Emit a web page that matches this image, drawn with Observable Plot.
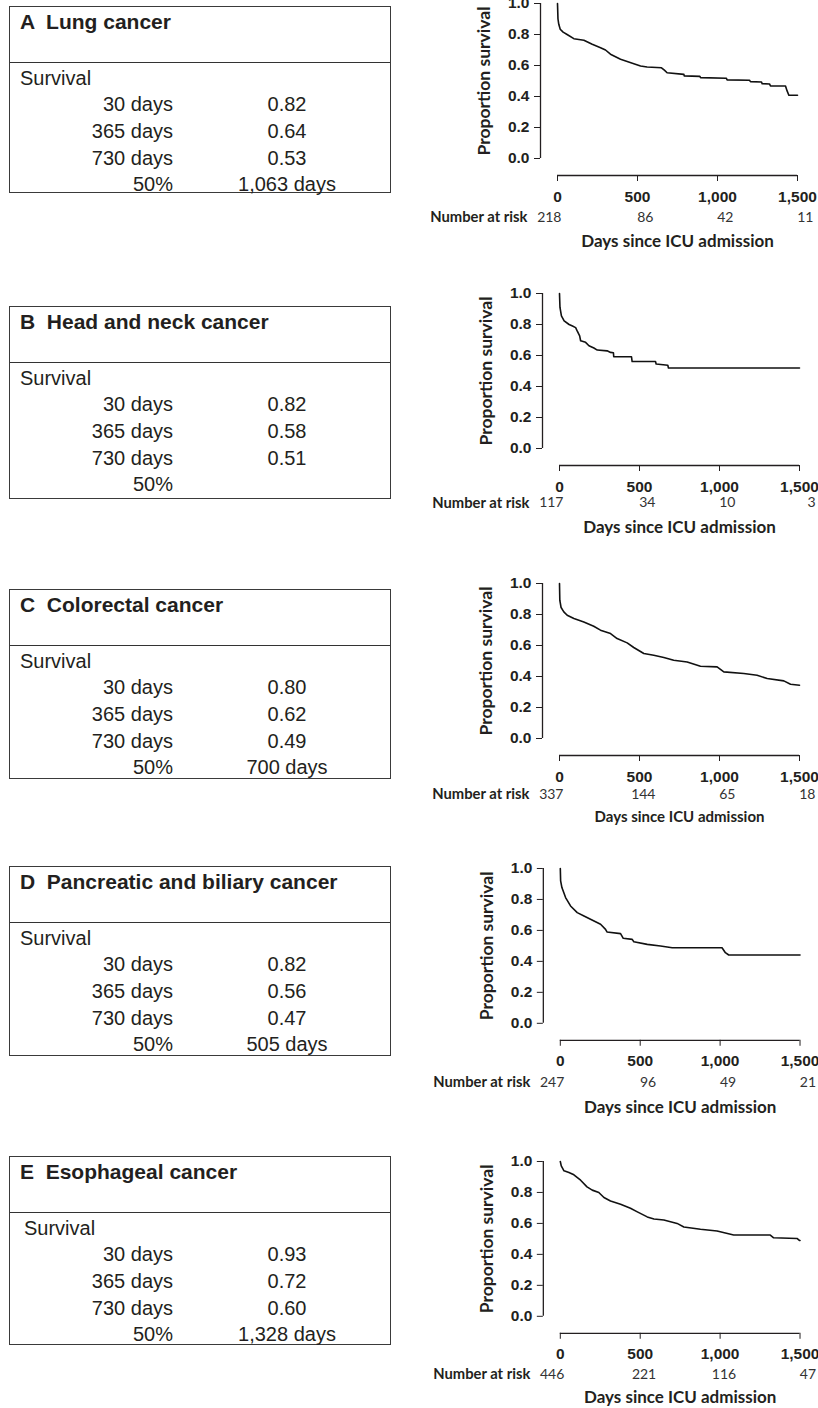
<!DOCTYPE html>
<html>
<head>
<meta charset="utf-8">
<script src="https://cdn.jsdelivr.net/npm/d3@7"></script>
<script src="https://cdn.jsdelivr.net/npm/@observablehq/plot@0.6"></script>
<style>
  html, body { margin: 0; padding: 0; background: #fff; }
  body { width: 818px; height: 1408px; position: relative; overflow: hidden; }
  .box { position: absolute; left: 9px; width: 382px; border: 1.3px solid #3a3a3a; box-sizing: border-box;
         font-family: "Liberation Sans", Arial, sans-serif; color: #231f20; }
  .sep { position: absolute; left: 0; right: 0; height: 0; border-top: 1.8px solid #333; }
  .t { position: absolute; line-height: 24px; height: 24px; white-space: pre; }
  .hdr { font-weight: bold; font-size: 21px; left: 10px; }
  .lab { font-size: 20px; left: 0; width: 163px; text-align: right; }
  .val { font-size: 20px; left: 177px; width: 200px; text-align: center; }
  .sv  { font-size: 20px; }
  .chart { position: absolute; }
  .chart g[aria-label$="tick label"] { font-family: "Liberation Sans", Arial, sans-serif; font-size: 15.5px; font-weight: bold; }
</style>
</head>
<body>
<script>
// ---------- data ----------
const panelLetters = ["A", "B", "C", "D", "E"];
const cancerNames = ["Lung cancer", "Head and neck cancer", "Colorectal cancer",
                     "Pancreatic and biliary cancer", "Esophageal cancer"];
const survivalLabels = ["30 days", "365 days", "730 days", "50%"];
const survivalA = ["0.82", "0.64", "0.53", "1,063 days"];
const survivalB = ["0.82", "0.58", "0.51", ""];
const survivalC = ["0.80", "0.62", "0.49", "700 days"];
const survivalD = ["0.82", "0.56", "0.47", "505 days"];
const survivalE = ["0.93", "0.72", "0.60", "1,328 days"];

const xTicks = [0, 500, 1000, 1500];
const yTicks = [0, 0.2, 0.4, 0.6, 0.8, 1.0];
const xDomain = [0, 1500];
const yDomain = [0, 1];

const riskA = [218, 86, 42, 11];
const riskB = [117, 34, 10, 3];
const riskC = [337, 144, 65, 18];
const riskD = [247, 96, 49, 21];
const riskE = [446, 221, 116, 47];

// [days since ICU admission, proportion surviving]
const curveA = [[0,1],[3,0.9],[8,0.866],[17,0.834],[35,0.815],[60,0.80],[102,0.773],[165,0.763],[217,0.737],
  [269,0.715],[300,0.70],[331,0.673],[394,0.64],[477,0.612],[519,0.597],[560,0.59],[650,0.585],[668,0.57],
  [685,0.553],[790,0.543],[792,0.533],[890,0.53],[894,0.522],[1055,0.518],[1060,0.507],[1200,0.505],
  [1206,0.496],[1275,0.494],[1279,0.483],[1325,0.481],[1331,0.468],[1425,0.468],[1435,0.436],[1446,0.408],[1500,0.408]];
const curveB = [[0,1],[3,0.91],[12,0.856],[29,0.824],[60,0.80],[81,0.79],[101,0.78],[112,0.755],[126,0.727],
  [132,0.695],[163,0.685],[184,0.663],[215,0.648],[236,0.635],[298,0.63],[319,0.62],[337,0.618],[339,0.592],
  [450,0.592],[454,0.561],[600,0.561],[604,0.545],[677,0.537],[681,0.519],[1500,0.519]];
const curveC = [[0,1],[2,0.892],[10,0.845],[27,0.817],[48,0.795],[90,0.774],[152,0.752],[214,0.724],[256,0.699],
  [319,0.677],[360,0.645],[423,0.617],[464,0.587],[527,0.548],[589,0.537],[652,0.523],[714,0.505],[798,0.494],
  [881,0.466],[985,0.462],[1027,0.43],[1152,0.419],[1235,0.408],[1298,0.387],[1402,0.372],[1444,0.35],[1500,0.344]];
const curveD = [[0,1],[2,0.92],[10,0.877],[33,0.812],[64,0.758],[106,0.715],[148,0.693],[189,0.672],[252,0.64],
  [283,0.607],[292,0.59],[377,0.579],[394,0.549],[450,0.542],[460,0.527],[544,0.51],[627,0.499],[700,0.488],
  [1012,0.488],[1033,0.456],[1054,0.441],[1500,0.441]];
const curveE = [[0,1],[6,0.972],[23,0.94],[54,0.929],[85,0.914],[127,0.879],[167,0.836],[200,0.815],[241,0.8],
  [273,0.767],[314,0.745],[377,0.724],[439,0.698],[479,0.676],[544,0.642],[586,0.629],[648,0.622],[731,0.60],
  [773,0.577],[877,0.562],[981,0.551],[1085,0.525],[1314,0.525],[1335,0.507],[1481,0.503],[1496,0.49],[1500,0.49]];

const survivalTables = [survivalA, survivalB, survivalC, survivalD, survivalE];
const riskTables = [riskA, riskB, riskC, riskD, riskE];
const curves = [curveA, curveB, curveC, curveD, curveE];

// ---------- layout ----------
const tableTop = [6, 306, 589, 866, 1156];
const tableHeight = [187, 193, 190, 190, 189];
const survivalIndent = [10, 10, 10, 10, 14];
const chartTop = [2.5, 292.7, 583.3, 867.7, 1160.7];   // y of 1.0
const chartLeft = [398, 400, 400, 400.5, 400.5];
const riskDy = [42, 37.5, 39, 42.5, 41];
const titleDy = [66, 62, 62, 67, 64];
const titleSize = [17, 17, 15, 17, 17];

const MT = 12, FRAME = 155, INSET = 17, MB = 90, ML = 142, MR = 19, W = 418;

const chartFont = "Lato, 'Open Sans', sans-serif";

function table(i) {
  const box = document.createElement("div");
  box.className = "box";
  box.style.top = tableTop[i] + "px";
  box.style.height = tableHeight[i] + "px";
  const sep = document.createElement("div");
  sep.className = "sep"; sep.style.top = "55px";
  box.appendChild(sep);
  const add = (cls, text, center, extra) => {
    const d = document.createElement("div");
    d.className = "t " + cls;
    d.textContent = text;
    d.style.top = (center - 12) + "px";
    if (extra) Object.assign(d.style, extra);
    box.appendChild(d);
  };
  add("hdr", panelLetters[i] + "  " + cancerNames[i], 15);
  add("sv", "Survival", 55 + 16, {left: survivalIndent[i] + "px"});
  survivalLabels.forEach((lab, j) => {
    const c = 55 + 42 + j * 26.8;
    add("lab", lab, c);
    add("val", survivalTables[i][j], c);
  });
  document.body.appendChild(box);
}

function chart(i) {
  const risk = xTicks.map((d, j) => ({day: d, n: riskTables[i][j]}));
  const textStyle = {fontFamily: chartFont};
  const svg = Plot.plot({
    width: W,
    height: MT + FRAME + INSET + MB,
    marginTop: MT, marginBottom: MB, marginLeft: ML, marginRight: MR,
    style: {fontFamily: "'Liberation Sans', Arial, sans-serif", fontSize: "15.5px", fontWeight: "bold",
            color: "#231f20", background: "transparent", overflow: "visible"},
    x: {domain: xDomain, insetLeft: INSET, ticks: xTicks, tickFormat: d3.format(","), tickSize: 6, tickPadding: 9, label: null},
    y: {domain: yDomain, insetBottom: INSET, ticks: yTicks, tickFormat: d3.format(".1f"), tickSize: 6, tickPadding: 5, label: null},
    marks: [
      Plot.ruleX([xDomain[0]], {y1: yDomain[0], y2: yDomain[1], dx: -INSET, stroke: "#231f20", strokeWidth: 1.3}),
      Plot.ruleY([yDomain[0]], {x1: xDomain[0], x2: xDomain[1], dy: INSET, stroke: "#231f20", strokeWidth: 1.3}),
      Plot.line(curves[i], {x: d => d[0], y: d => d[1], stroke: "#111", strokeWidth: 1.6}),
      Plot.text(["Proportion survival"], {y: d3.mean(yDomain), frameAnchor: "left", textAnchor: "middle",
        lineAnchor: "middle", rotate: -90, dx: -56,
        fontSize: 17.5, fontWeight: "bold", fill: "#231f20", ...textStyle}),
      Plot.text(["Number at risk"], {frameAnchor: "bottom-left", textAnchor: "end", lineAnchor: "middle",
        dx: -13, dy: riskDy[i], fontSize: 14.8, fontWeight: "bold", fill: "#231f20", ...textStyle}),
      Plot.text(risk, {filter: d => d.day === xTicks[0], x: "day", text: d => String(d.n), frameAnchor: "bottom",
        textAnchor: "end", lineAnchor: "middle", dx: 4, dy: riskDy[i], fontSize: 14, fontWeight: "normal",
        fill: "#333", ...textStyle}),
      Plot.text(risk, {filter: d => d.day !== xTicks[0], x: "day", text: d => String(d.n), frameAnchor: "bottom",
        textAnchor: "end", lineAnchor: "middle", dx: 16, dy: riskDy[i], fontSize: 14, fontWeight: "normal",
        fill: "#333", ...textStyle}),
      Plot.text(["Days since ICU admission"], {x: d3.mean(xDomain), frameAnchor: "bottom", textAnchor: "middle",
        lineAnchor: "middle", dy: titleDy[i], fontSize: titleSize[i], fontWeight: "bold", fill: "#231f20", ...textStyle})
    ]
  });
  const wrap = document.createElement("div");
  wrap.className = "chart";
  wrap.style.left = chartLeft[i] + "px";
  wrap.style.top = (chartTop[i] - MT) + "px";
  wrap.appendChild(svg);
  document.body.appendChild(wrap);
}

for (let i = 0; i < 5; i++) { table(i); chart(i); }
</script>
</body>
</html>
